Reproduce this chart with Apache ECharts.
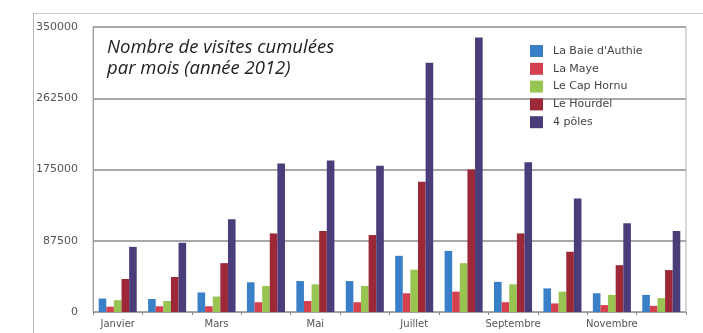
<!DOCTYPE html>
<html>
<head>
<meta charset="utf-8">
<script src="https://cdn.jsdelivr.net/npm/echarts@6/dist/echarts.min.js"></script>
<style>
  html, body { margin: 0; padding: 0; background: #fff; }
  #wrap { position: relative; width: 703px; height: 333px; }
  #frame { position: absolute; left: 33px; top: 13px; width: 670px; height: 320px;
           border-left: 1px solid #b8b8b8; border-top: 1px solid #c8c8c8; }
  #chart { position: absolute; left: 0; top: 0; width: 703px; height: 333px; }
</style>
</head>
<body>
<div id="wrap">
  <div id="frame"></div>
  <div id="chart"></div>
</div>
<script>
// mois
var mois = ['Janvier', 'Février', 'Mars', 'Avril', 'Mai', 'Juin', 'Juillet', 'Août',
            'Septembre', 'Octobre', 'Novembre', 'Décembre'];

// visites par site
var baieAuthie = [16500, 16000, 24000, 36500, 38000, 38000, 69000, 75000, 37000, 29000, 23000, 21000];
var laMaye     = [6500, 7000, 7000, 12000, 13500, 12000, 23000, 25000, 12000, 10500, 8500, 7500];
var capHornu   = [14500, 13500, 19000, 32000, 34000, 32000, 52000, 60000, 34000, 25000, 21000, 17000];
var hourdel    = [40500, 43000, 60000, 96500, 99500, 94500, 160000, 175000, 96500, 74000, 57500, 51500];
var quatrePoles = [80000, 85000, 114000, 182500, 186000, 179500, 306000, 337000, 184000, 139500, 109000, 99500];

var yTicks = [0, 87500, 175000, 262500, 350000];

var noms = ["La Baie d'Authie", 'La Maye', 'Le Cap Hornu', 'Le Hourdel', '4 pôles'];
var couleurs = ['#3a80c8', '#d4404e', '#98c452', '#9c2838', '#4a3d7a'];
var valeurs = [baieAuthie, laMaye, capHornu, hourdel, quatrePoles];

var myChart = echarts.init(document.getElementById('chart'), null, { renderer: 'canvas' });

var series = noms.map(function (nom, i) {
    return {
        name: nom,
        type: 'bar',
        data: valeurs[i],
        barGap: '0%',
        barCategoryGap: '23%',
        itemStyle: { color: couleurs[i] }
    };
});

var option = {
    animation: false,
    title: {
        text: 'Nombre de visites cumulées\npar mois (année 2012)',
        left: 102,
        top: 32,
        textStyle: {
            fontFamily: 'Open Sans',
            fontStyle: 'italic',
            fontWeight: 'normal',
            fontSize: 18.5,
            lineHeight: 21,
            color: '#222'
        }
    },
    legend: {
        orient: 'vertical',
        left: 530,
        top: 45,
        padding: 0,
        itemWidth: 13,
        itemHeight: 12,
        itemGap: 5.8,
        icon: 'rect',
        textStyle: { fontFamily: 'DejaVu Sans', fontSize: 11, color: '#444', padding: [0, 0, 0, 5] },
        data: noms
    },
    grid: {
        left: 93, right: 17, top: 27, bottom: 21,
        show: true, borderColor: '#b0b0b0', borderWidth: 1
    },
    xAxis: {
        type: 'category',
        data: mois,
        axisLine: { lineStyle: { color: '#a0a0a0', width: 1 } },
        axisTick: { show: true, interval: 0, length: 3, lineStyle: { color: '#888' } },
        axisLabel: {
            interval: 1,
            fontFamily: 'DejaVu Sans',
            fontSize: 10,
            color: '#555',
            margin: 7
        }
    },
    yAxis: {
        type: 'value',
        min: yTicks[0],
        max: yTicks[yTicks.length - 1],
        interval: 87500,
        axisLine: { show: true, lineStyle: { color: '#a0a0a0' } },
        axisTick: { show: false },
        splitLine: { lineStyle: { color: '#a8a8a8', width: 2 } },
        axisLabel: {
            formatter: function (v) { return String(v); },
            fontFamily: 'DejaVu Sans',
            fontSize: 11,
            color: '#555',
            margin: 15
        }
    },
    series: series
};

myChart.setOption(option);
</script>
</body>
</html>
